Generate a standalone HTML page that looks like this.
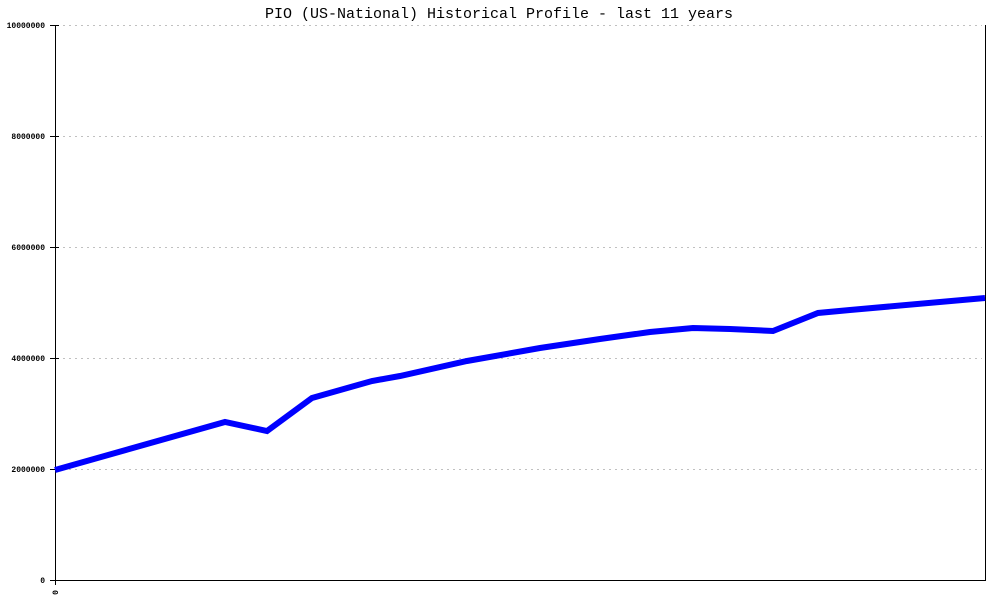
<!DOCTYPE html>
<html>
<head>
<meta charset="utf-8">
<style>
html,body{margin:0;padding:0;background:#fff;}
svg{display:block;}
</style>
</head>
<body>
<svg width="1000" height="600" viewBox="0 0 1000 600" xmlns="http://www.w3.org/2000/svg">
<rect width="1000" height="600" fill="#fff"/>
<text x="499" y="18" text-anchor="middle" font-family="Liberation Mono, monospace" font-size="15" fill="#000">PIO (US-National) Historical Profile - last 11 years</text>
<g stroke="#c0c0c0" stroke-width="1" stroke-dasharray="2,4" shape-rendering="crispEdges">
<line x1="57" y1="25.5" x2="982" y2="25.5"/>
<line x1="57" y1="136.5" x2="982" y2="136.5"/>
<line x1="57" y1="247.5" x2="982" y2="247.5"/>
<line x1="57" y1="358.5" x2="982" y2="358.5"/>
<line x1="57" y1="469.5" x2="982" y2="469.5"/>
</g>
<g stroke="#000" stroke-width="1" shape-rendering="crispEdges">
<line x1="55.5" y1="25" x2="55.5" y2="585"/>
<line x1="50" y1="580.5" x2="986" y2="580.5"/>
<line x1="985.5" y1="25" x2="985.5" y2="581"/>
<line x1="50" y1="25.5" x2="59" y2="25.5"/>
<line x1="50" y1="136.5" x2="59" y2="136.5"/>
<line x1="50" y1="247.5" x2="59" y2="247.5"/>
<line x1="50" y1="358.5" x2="59" y2="358.5"/>
<line x1="50" y1="469.5" x2="59" y2="469.5"/>
</g>
<g font-family="Liberation Mono, monospace" font-size="8" fill="#000" text-anchor="end" font-weight="bold">
<text x="45" y="28">10000000</text>
<text x="45" y="139">8000000</text>
<text x="45" y="250">6000000</text>
<text x="45" y="361">4000000</text>
<text x="45" y="472">2000000</text>
<text x="45" y="583">0</text>
</g>
<text x="0" y="0" font-family="Liberation Mono, monospace" font-size="8" font-weight="bold" fill="#000" text-anchor="end" transform="translate(58,590) rotate(-90)">0</text>
<polyline fill="none" stroke="#0000ff" stroke-width="6" stroke-linejoin="miter" points="55,470 225,422 267,431 312,398 372,381 400,376 467,361 540,348 600,339 650,332 693,328 730,329 773,331 818,313 850,310 985,298"/>
</svg>
</body>
</html>
